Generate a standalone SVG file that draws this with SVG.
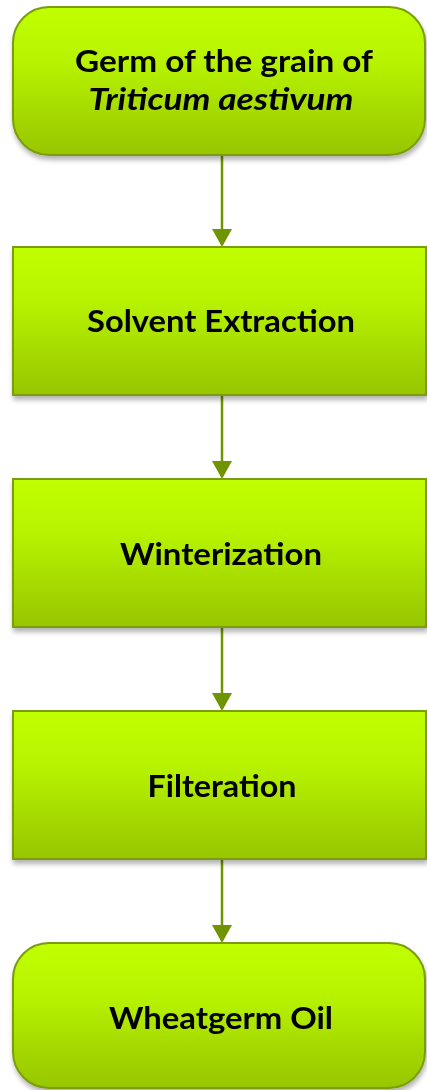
<svg xmlns="http://www.w3.org/2000/svg" width="427" height="1090" viewBox="0 0 427 1090">
<style>
.box{fill:url(#g);stroke:#7a9c0a;stroke-width:2}
.lbl{font-family:Lato,"Open Sans","Liberation Sans",sans-serif;font-weight:bold;font-size:30px;fill:#000;text-anchor:middle}
.conn{stroke:#6f9400;stroke-width:2.5;fill:none}
</style>
<defs>
<linearGradient id="g" x1="0" y1="0" x2="0" y2="1">
<stop offset="0" stop-color="#c0ff00"/>
<stop offset="0.35" stop-color="#b8f400"/>
<stop offset="1" stop-color="#97c600"/>
</linearGradient>
<filter id="sh" x="-10%" y="-10%" width="120%" height="130%">
<feGaussianBlur in="SourceAlpha" stdDeviation="2.5"/>
<feOffset dx="1" dy="4" result="b"/>
<feComponentTransfer><feFuncA type="linear" slope="0.3"/></feComponentTransfer>
<feMerge><feMergeNode/><feMergeNode in="SourceGraphic"/></feMerge>
</filter>
<marker id="ah" markerWidth="10" markerHeight="9" refX="10" refY="4.5" orient="auto" markerUnits="userSpaceOnUse" viewBox="0 0 10 9">
<path d="M0,0 L10,4.5 L0,9 Z" fill="#6f9400"/>
</marker>
</defs>
<g id="connectors">
<line class="conn" x1="222" y1="156" x2="222" y2="230"/>
<path d="M212,229 L232,229 L222,247 Z" fill="#6f9400"/>
<line class="conn" x1="222" y1="396" x2="222" y2="462"/>
<path d="M212,461 L232,461 L222,479 Z" fill="#6f9400"/>
<line class="conn" x1="222" y1="628" x2="222" y2="694"/>
<path d="M212,693 L232,693 L222,711 Z" fill="#6f9400"/>
<line class="conn" x1="222" y1="860" x2="222" y2="926"/>
<path d="M212,925 L232,925 L222,943 Z" fill="#6f9400"/>
</g>
<g id="node-germ" filter="url(#sh)">
<rect class="box" x="13" y="7" width="412" height="148" rx="36" ry="36"/>
<text class="lbl" x="224" y="72" textLength="298" lengthAdjust="spacingAndGlyphs">Germ of the grain of</text>
<text class="lbl" x="221" y="110" font-style="italic" textLength="265" lengthAdjust="spacingAndGlyphs">Triticum aestivum</text>
</g>
<g id="node-solvent" filter="url(#sh)">
<rect class="box" x="13" y="247" width="413" height="148"/>
<text class="lbl" x="221" y="332" textLength="268" lengthAdjust="spacingAndGlyphs">Solvent Extraction</text>
</g>
<g id="node-winter" filter="url(#sh)">
<rect class="box" x="13" y="479" width="413" height="148"/>
<text class="lbl" x="221" y="565" textLength="202" lengthAdjust="spacingAndGlyphs">Winterization</text>
</g>
<g id="node-filter" filter="url(#sh)">
<rect class="box" x="13" y="711" width="413" height="148"/>
<text class="lbl" x="222" y="797" textLength="149" lengthAdjust="spacingAndGlyphs">Filteration</text>
</g>
<g id="node-oil" filter="url(#sh)">
<rect class="box" x="13" y="943" width="412" height="145" rx="36" ry="36"/>
<text class="lbl" x="221" y="1029" textLength="224" lengthAdjust="spacingAndGlyphs">Wheatgerm Oil</text>
</g>
</svg>
